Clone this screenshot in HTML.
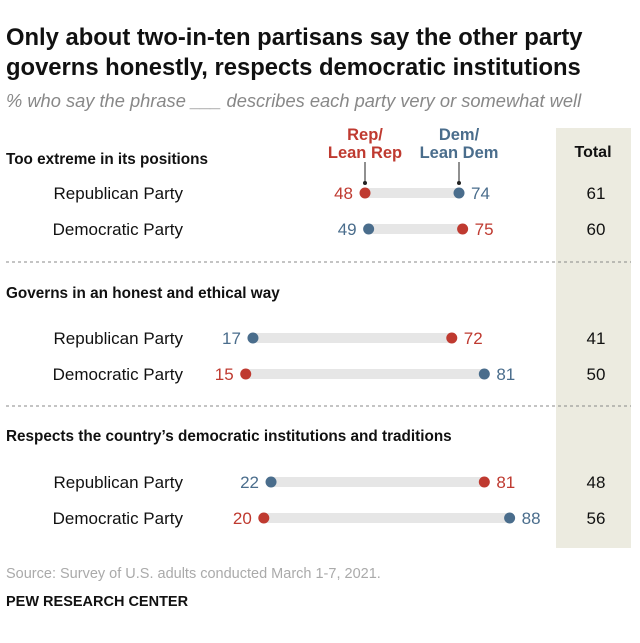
<!DOCTYPE html>
<html><head><meta charset="utf-8">
<style>
body{margin:0;background:#fff;font-family:"Liberation Sans",sans-serif;}
svg text{font-family:"Liberation Sans",sans-serif;}
</style></head>
<body>
<svg width="640" height="638" viewBox="0 0 640 638" xmlns="http://www.w3.org/2000/svg">
<text x="6" y="45" font-size="23.8" font-weight="bold" fill="#111">Only about two-in-ten partisans say the other party</text>
<text x="6" y="75" font-size="23.8" font-weight="bold" fill="#111">governs honestly, respects democratic institutions</text>
<text x="6" y="107" font-size="18.3" font-style="italic" fill="#888">% who say the phrase ___ describes each party very or somewhat well</text>
<rect x="556" y="128" width="75" height="420" fill="#ecebe0"/>
<text x="593" y="157" font-size="16" font-weight="bold" text-anchor="middle" fill="#111">Total</text>
<text x="365" y="140" font-size="16.5" font-weight="bold" text-anchor="middle" fill="#bf3a30">Rep/</text>
<text x="365" y="158" font-size="16.5" font-weight="bold" text-anchor="middle" fill="#bf3a30">Lean Rep</text>
<text x="459" y="140" font-size="16.5" font-weight="bold" text-anchor="middle" fill="#4a6d8c">Dem/</text>
<text x="459" y="158" font-size="16.5" font-weight="bold" text-anchor="middle" fill="#4a6d8c">Lean Dem</text>
<line x1="365" y1="162" x2="365" y2="183" stroke="#222"/>
<circle cx="365" cy="183" r="2" fill="#222"/>
<line x1="459" y1="162" x2="459" y2="183" stroke="#222"/>
<circle cx="459" cy="183" r="2" fill="#222"/>
<line x1="6" y1="262" x2="631" y2="262" stroke="#888" stroke-dasharray="3,3"/>
<line x1="6" y1="406" x2="631" y2="406" stroke="#888" stroke-dasharray="3,3"/>
<text x="6" y="578" font-size="14.5" fill="#aaa">Source: Survey of U.S. adults conducted March 1-7, 2021.</text>
<text x="6" y="606" font-size="14.5" font-weight="bold" fill="#111">PEW RESEARCH CENTER</text>
<g id="plot"></g>
</svg>
<script>
const sections = ["Too extreme in its positions","Governs in an honest and ethical way","Respects the country\u2019s democratic institutions and traditions"];
const parties = ["Republican Party","Democratic Party","Republican Party","Democratic Party","Republican Party","Democratic Party"];
const repValues = [48,75,72,15,81,20];
const demValues = [74,49,17,81,22,88];
const totalValues = [61,60,41,50,48,56];
const sectionY = [164,298,441];
const rowY = [193,229,338,374,482,518];
const NS="http://www.w3.org/2000/svg";
const g=document.getElementById('plot');
const xs=v=>191.5+v*3.615;
function el(t,a,txt){const e=document.createElementNS(NS,t);for(const k in a)e.setAttribute(k,a[k]);if(txt!==undefined)e.textContent=txt;g.appendChild(e);return e;}
sections.forEach((s,i)=>{
  const e=el('text',{x:6,y:sectionY[i],'font-size':15.3,'font-weight':'bold',fill:'#111'},s);
  
  
});
const RED='#bf3a30',BLUE='#4a6d8c';
rowY.forEach((y,i)=>{
  const r=repValues[i],d=demValues[i];
  const lab=el('text',{x:183,y:y+6,'font-size':17,'text-anchor':'end',fill:'#111'},parties[i]);
  
  
  const lo=Math.min(r,d),hi=Math.max(r,d);
  const bar=el('rect',{x:xs(lo),y:y-5,width:xs(hi)-xs(lo),height:10,fill:'#e6e6e6'});
  
  
  [[r,RED,'rep'],[d,BLUE,'dem']].forEach(([v,c,k])=>{
    const isLo=v===lo && !(r===d);
    const dot=el('circle',{cx:xs(v),cy:y,r:5.5,fill:c});
    
    
    const t=el('text',{x:isLo?xs(v)-12:xs(v)+12,y:y+6,'font-size':17,'text-anchor':isLo?'end':'start',fill:c},v);
    
    
  });
  const tt=el('text',{x:596,y:y+6,'font-size':17,'text-anchor':'middle',fill:'#111'},totalValues[i]);
  
  
});
</script>
</body></html>
